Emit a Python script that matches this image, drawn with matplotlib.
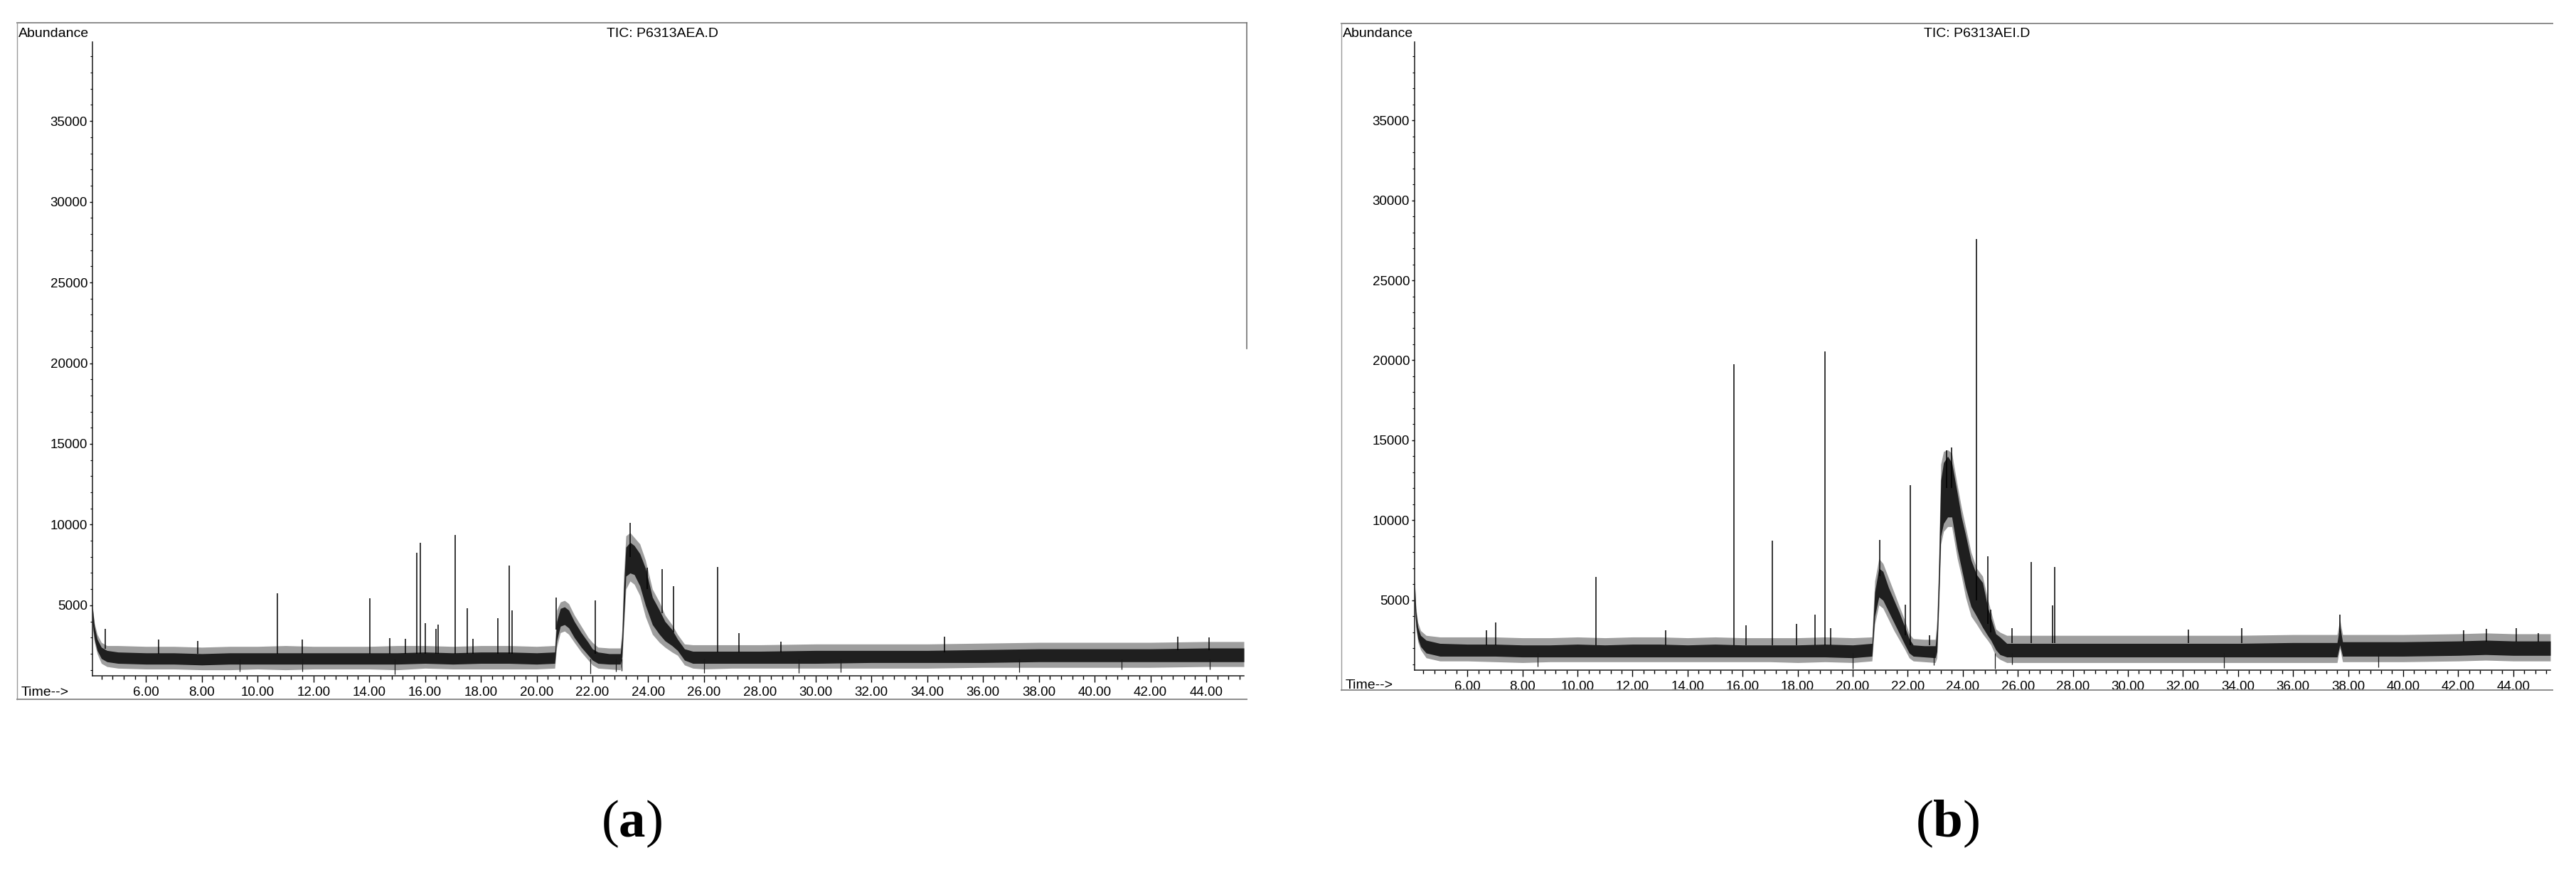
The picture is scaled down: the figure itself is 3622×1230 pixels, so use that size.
import numpy as np
import matplotlib
matplotlib.use("Agg")
import matplotlib.pyplot as plt
from matplotlib.ticker import MultipleLocator, FormatStrFormatter
from matplotlib.lines import Line2D

plt.rcParams['font.family'] = ['Liberation Sans', 'DejaVu Sans']
plt.rcParams['mathtext.fontset'] = 'custom'
plt.rcParams['mathtext.rm'] = 'Liberation Serif'
plt.rcParams['mathtext.bf'] = 'Liberation Serif:bold'

W, H = 3623, 1230

# ---------------- panel (a) : TIC P6313AEA.D ----------------
# noise band of the baseline (dense core and outer fuzz), abundance vs time (min)
t_a = [4.08, 4.15, 4.25, 4.4, 4.6, 5.0, 6.0, 7.0, 8.0, 9.0, 10.0, 11.0, 12.0, 13.0,
       14.0, 15.0, 16.0, 17.0, 18.0, 19.0, 20.0, 20.65, 20.72, 20.85, 21.0, 21.15,
       21.35, 21.6, 21.85, 22.0, 22.2, 22.6, 23.0, 23.06, 23.12, 23.2, 23.35, 23.5,
       23.7, 23.9, 24.15, 24.4, 24.6, 24.85, 25.05, 25.3, 25.6, 26.0, 27.0, 28.0,
       30.0, 32.0, 34.0, 36.0, 38.0, 40.0, 42.0, 44.0, 45.35]
core_lo_a = [3900, 2900, 2200, 1700, 1500, 1400, 1350, 1350, 1300, 1350, 1350, 1350, 1350, 1350,
             1350, 1350, 1400, 1350, 1400, 1400, 1350, 1400, 2800, 3700, 3800, 3600,
             3000, 2400, 1900, 1600, 1400, 1350, 1350, 1800, 4000, 6800, 7000, 6900,
             6200, 5000, 3800, 3200, 2800, 2500, 2200, 1600, 1400, 1400, 1400, 1400,
             1400, 1450, 1450, 1450, 1500, 1500, 1500, 1500, 1500]
core_hi_a = [4900, 3700, 2900, 2400, 2200, 2100, 2050, 2050, 2000, 2050, 2050, 2050, 2050, 2050,
             2050, 2050, 2100, 2050, 2100, 2100, 2050, 2100, 4000, 4800, 4900, 4700,
             4000, 3300, 2700, 2300, 2100, 2000, 2000, 3000, 6000, 8600, 8900, 8700,
             8200, 7300, 5500, 4700, 4000, 3500, 2900, 2300, 2150, 2150, 2150, 2150,
             2200, 2200, 2200, 2250, 2300, 2300, 2300, 2350, 2350]
fuzz_lo_a = [3600, 2700, 2000, 1400, 1200, 1100, 1050, 1050, 1000, 1000, 1050, 1000, 1050, 1050,
             1050, 1000, 1100, 1050, 1050, 1050, 1050, 1100, 2400, 3300, 3400, 3200,
             2700, 2100, 1600, 1300, 1100, 1050, 1000, 1400, 3500, 6000, 6500, 6300,
             5600, 4300, 3200, 2700, 2400, 2100, 1900, 1300, 1100, 1050, 1100, 1100,
             1100, 1100, 1100, 1150, 1150, 1150, 1150, 1200, 1200]
fuzz_hi_a = [5000, 3900, 3200, 2700, 2500, 2500, 2450, 2450, 2400, 2450, 2450, 2500, 2450, 2450,
             2450, 2500, 2500, 2450, 2500, 2500, 2450, 2500, 4700, 5200, 5300, 5100,
             4400, 3700, 3000, 2700, 2400, 2350, 2350, 3500, 6800, 9300, 9500, 9200,
             8800, 7800, 6000, 5200, 4400, 3800, 3200, 2600, 2550, 2550, 2550, 2550,
             2600, 2600, 2600, 2650, 2700, 2700, 2700, 2750, 2750]
# sharp peaks: retention time, apex, foot
peak_t_a = [4.53, 6.45, 7.85, 10.70, 11.60, 14.03, 14.73, 15.30, 15.71, 15.84, 16.01, 16.38,
            16.48, 17.07, 17.52, 17.72, 18.60, 19.02, 19.12, 20.70, 22.09, 23.34, 23.96,
            24.50, 24.90, 26.49, 27.25, 28.75, 34.62, 42.98, 44.10]
peak_top_a = [3530, 2870, 2800, 5750, 2870, 5450, 2970, 2900, 8250, 8850, 3880, 3560,
              3800, 9350, 4800, 2900, 4200, 7450, 4700, 5500, 5300, 10100, 7340,
              7250, 6200, 7380, 3280, 2760, 3060, 3060, 2990]
peak_foot_a = [2300, 2000, 2000, 2000, 2000, 2000, 2000, 2000, 2000, 2000, 2000, 2000,
               2000, 2000, 2000, 2000, 2000, 2000, 2000, 3500, 2000, 8000, 6000,
               4500, 3300, 2100, 2100, 2100, 2100, 2200, 2200]
dip_t_a = [9.35, 11.60, 14.91, 21.92, 22.85, 23.04, 26.0, 29.38, 30.90, 37.30, 40.97, 44.13]
dip_low_a = [880, 900, 700, 770, 880, 950, 820, 785, 860, 860, 1010, 1010]

# ---------------- panel (b) : TIC P6313AEI.D ----------------
t_b = [4.08, 4.13, 4.2, 4.3, 4.5, 5.0, 6.0, 7.0, 8.0, 9.0, 10.0, 11.0, 12.0, 13.0,
       14.0, 15.0, 16.0, 17.0, 18.0, 19.0, 20.0, 20.7, 20.8, 20.95, 21.1, 21.3,
       21.5, 21.7, 21.9, 22.05, 22.2, 22.6, 23.0, 23.06, 23.12, 23.2, 23.3, 23.45,
       23.6, 23.8, 23.95, 24.1, 24.3, 24.5, 24.72, 24.9, 25.02, 25.2, 25.35, 25.6,
       26.0, 27.0, 28.0, 30.0, 32.0, 34.0, 36.0, 37.6, 37.7, 37.8, 38.0, 40.0,
       42.0, 43.0, 44.0, 45.35]
core_lo_b = [4800, 3400, 2600, 2100, 1700, 1500, 1500, 1500, 1450, 1450, 1450, 1450, 1450, 1450,
             1450, 1450, 1450, 1450, 1450, 1450, 1400, 1500, 4000, 5200, 5000, 4300,
             3600, 2900, 2200, 1700, 1500, 1450, 1400, 1800, 4500, 9000, 9800, 10200,
             10200, 8200, 7000, 5800, 4600, 4000, 3300, 2800, 2500, 1900, 1600, 1450,
             1450, 1450, 1450, 1450, 1450, 1450, 1450, 1450, 2200, 1500, 1500, 1500,
             1550, 1600, 1550, 1550]
core_hi_b = [6200, 4300, 3300, 2800, 2500, 2300, 2250, 2250, 2200, 2200, 2250, 2200, 2250, 2250,
             2200, 2250, 2200, 2200, 2200, 2250, 2200, 2300, 5500, 7000, 6800, 5800,
             5000, 4200, 3300, 2600, 2200, 2150, 2150, 3200, 6500, 12500, 13600, 14000,
             13600, 11700, 10200, 9100, 7500, 6600, 6100, 4600, 3900, 2900, 2700, 2300,
             2300, 2300, 2300, 2300, 2300, 2300, 2350, 2350, 3400, 2400, 2400, 2400,
             2450, 2500, 2450, 2450]
fuzz_lo_b = [4500, 3200, 2400, 1900, 1400, 1200, 1200, 1150, 1100, 1150, 1150, 1150, 1150, 1150,
             1150, 1150, 1150, 1150, 1100, 1150, 1100, 1200, 3500, 4700, 4500, 3800,
             3100, 2500, 1900, 1400, 1200, 1150, 1100, 1400, 4000, 8500, 9300, 9600,
             9600, 7600, 6500, 5200, 4000, 3500, 2900, 2500, 2200, 1500, 1300, 1100,
             1100, 1100, 1100, 1100, 1100, 1100, 1100, 1100, 2000, 1150, 1150, 1150,
             1200, 1250, 1200, 1200]
fuzz_hi_b = [6300, 4500, 3600, 3100, 2800, 2700, 2700, 2700, 2650, 2650, 2700, 2650, 2700, 2700,
             2650, 2700, 2650, 2650, 2650, 2700, 2650, 2700, 6200, 7600, 7300, 6400,
             5500, 4600, 3700, 2900, 2600, 2550, 2550, 3800, 7000, 13500, 14300, 14400,
             14200, 12200, 10800, 9600, 8000, 7000, 6500, 5100, 4300, 3200, 3000, 2800,
             2800, 2800, 2800, 2800, 2800, 2800, 2850, 2850, 3800, 2850, 2850, 2850,
             2900, 2950, 2900, 2900]
peak_t_b = [6.70, 7.02, 10.68, 13.21, 15.69, 16.13, 17.07, 17.96, 18.62, 18.99, 19.20,
            20.99, 21.91, 22.09, 22.80, 23.42, 23.60, 24.49, 24.91, 25.00, 25.80, 26.48,
            27.27, 27.35, 32.20, 34.14, 37.70, 42.20, 43.03, 44.12, 44.90]
peak_top_b = [3100, 3590, 6440, 3100, 19760, 3430, 8740, 3500, 4110, 20570, 3250,
              8770, 4730, 12190, 2800, 14380, 14560, 27600, 7750, 4410, 3250, 7390,
              4680, 7080, 3160, 3250, 4100, 3100, 3200, 3250, 2960]
peak_foot_b = [2200, 2200, 2200, 2200, 2200, 2200, 2200, 2200, 2200, 2200, 2200,
               6500, 2800, 2200, 2200, 12000, 12000, 5000, 3500, 3000, 2300, 2300,
               2300, 2300, 2300, 2300, 3000, 2400, 2400, 2400, 2400]
dip_t_b = [8.55, 20.0, 22.95, 25.17, 25.80, 33.5, 39.1]
dip_low_b = [840, 720, 950, 710, 980, 760, 800]

titles = ["TIC: P6313AEA.D", "TIC: P6313AEI.D"]
labels = ["a", "b"]
major_y = [5000, 10000, 15000, 20000, 25000, 30000, 35000]


def px(x, y):
    return x / W, 1 - y / H


def draw_panel(ax, t, clo, chi, flo, fhi, pk_t, pk_top, pk_foot, dp_t, dp_low):
    ax.fill_between(t, flo, fhi, color="0.62", lw=0)
    ax.fill_between(t, clo, chi, color="0.12", lw=0)
    ax.vlines(pk_t, pk_foot, pk_top, color="k", lw=1.1)
    ax.vlines(dp_t, dp_low, 1700, color="0.1", lw=0.9)
    ax.set_xlim(4.08, 45.35)
    ax.set_ylim(630, 39900)
    for s in ["top", "right"]:
        ax.spines[s].set_visible(False)
    for s in ["left", "bottom"]:
        ax.spines[s].set_linewidth(1.1)
        ax.spines[s].set_color("0.1")
    ax.xaxis.set_minor_locator(MultipleLocator(0.4))
    ax.xaxis.set_major_formatter(FormatStrFormatter("%.2f"))
    ax.set_xticks([v for v in range(6, 46, 2)])
    ax.set_yticks(major_y)
    ax.yaxis.set_minor_locator(MultipleLocator(1000))
    ax.tick_params(axis="x", which="major", length=6.5, width=1, pad=4, labelsize=13.5)
    ax.tick_params(axis="x", which="minor", length=3.5, width=1)
    ax.tick_params(axis="y", which="major", length=3, width=1, pad=2, labelsize=13.5)
    ax.tick_params(axis="y", which="minor", length=2, width=0.8)


fig = plt.figure(figsize=(W / 100, H / 100), dpi=100)

# axes boxes in pixels: left, right, top, bottom
boxes = [(130, 1749, 59, 950), (1989, 3586, 59, 942)]
frames = [(24, 1753, 32, 983), (1886, 3589, 33, 970)]
data = [
    (t_a, core_lo_a, core_hi_a, fuzz_lo_a, fuzz_hi_a, peak_t_a, peak_top_a, peak_foot_a, dip_t_a, dip_low_a),
    (t_b, core_lo_b, core_hi_b, fuzz_lo_b, fuzz_hi_b, peak_t_b, peak_top_b, peak_foot_b, dip_t_b, dip_low_b),
]
time_y = [973, 963]
label_x = [888, 2738]

for i in range(2):
    l, r, t, b = boxes[i]
    ax = fig.add_axes([l / W, 1 - b / H, (r - l) / W, (b - t) / H])
    draw_panel(ax, *data[i])

    fl, fr, ft, fb = frames[i]
    x0, y0 = px(fl, ft)
    x1, y1 = px(fr, fb)
    fig.add_artist(Line2D([x0, x1], [y0, y0], color="0.55", lw=1.4))
    fig.add_artist(Line2D([x0, x0], [y0, y1], color="0.6", lw=1.0))
    fig.add_artist(Line2D([x0, x1], [y1, y1], color="0.55", lw=1.4))
    if i == 0:
        fig.add_artist(Line2D([x1, x1], [y0, px(0, 490)[1]], color="0.45", lw=1.2))

    fig.text(*px(fl + 2, 47), "Abundance", fontsize=14, ha="left", va="center")
    fig.text(*px((l + r) / 2 - 8, 47), titles[i], fontsize=14, ha="center", va="center")
    fig.text(*px(fl + 6, time_y[i]), "Time-->", fontsize=14, ha="left", va="center")
    fig.text(*px(label_x[i], 1158), r"($\mathbf{%s}$)" % labels[i], fontsize=54,
             family="Liberation Serif", ha="center", va="center")

fig.savefig("out.png", dpi=100, facecolor="white")
